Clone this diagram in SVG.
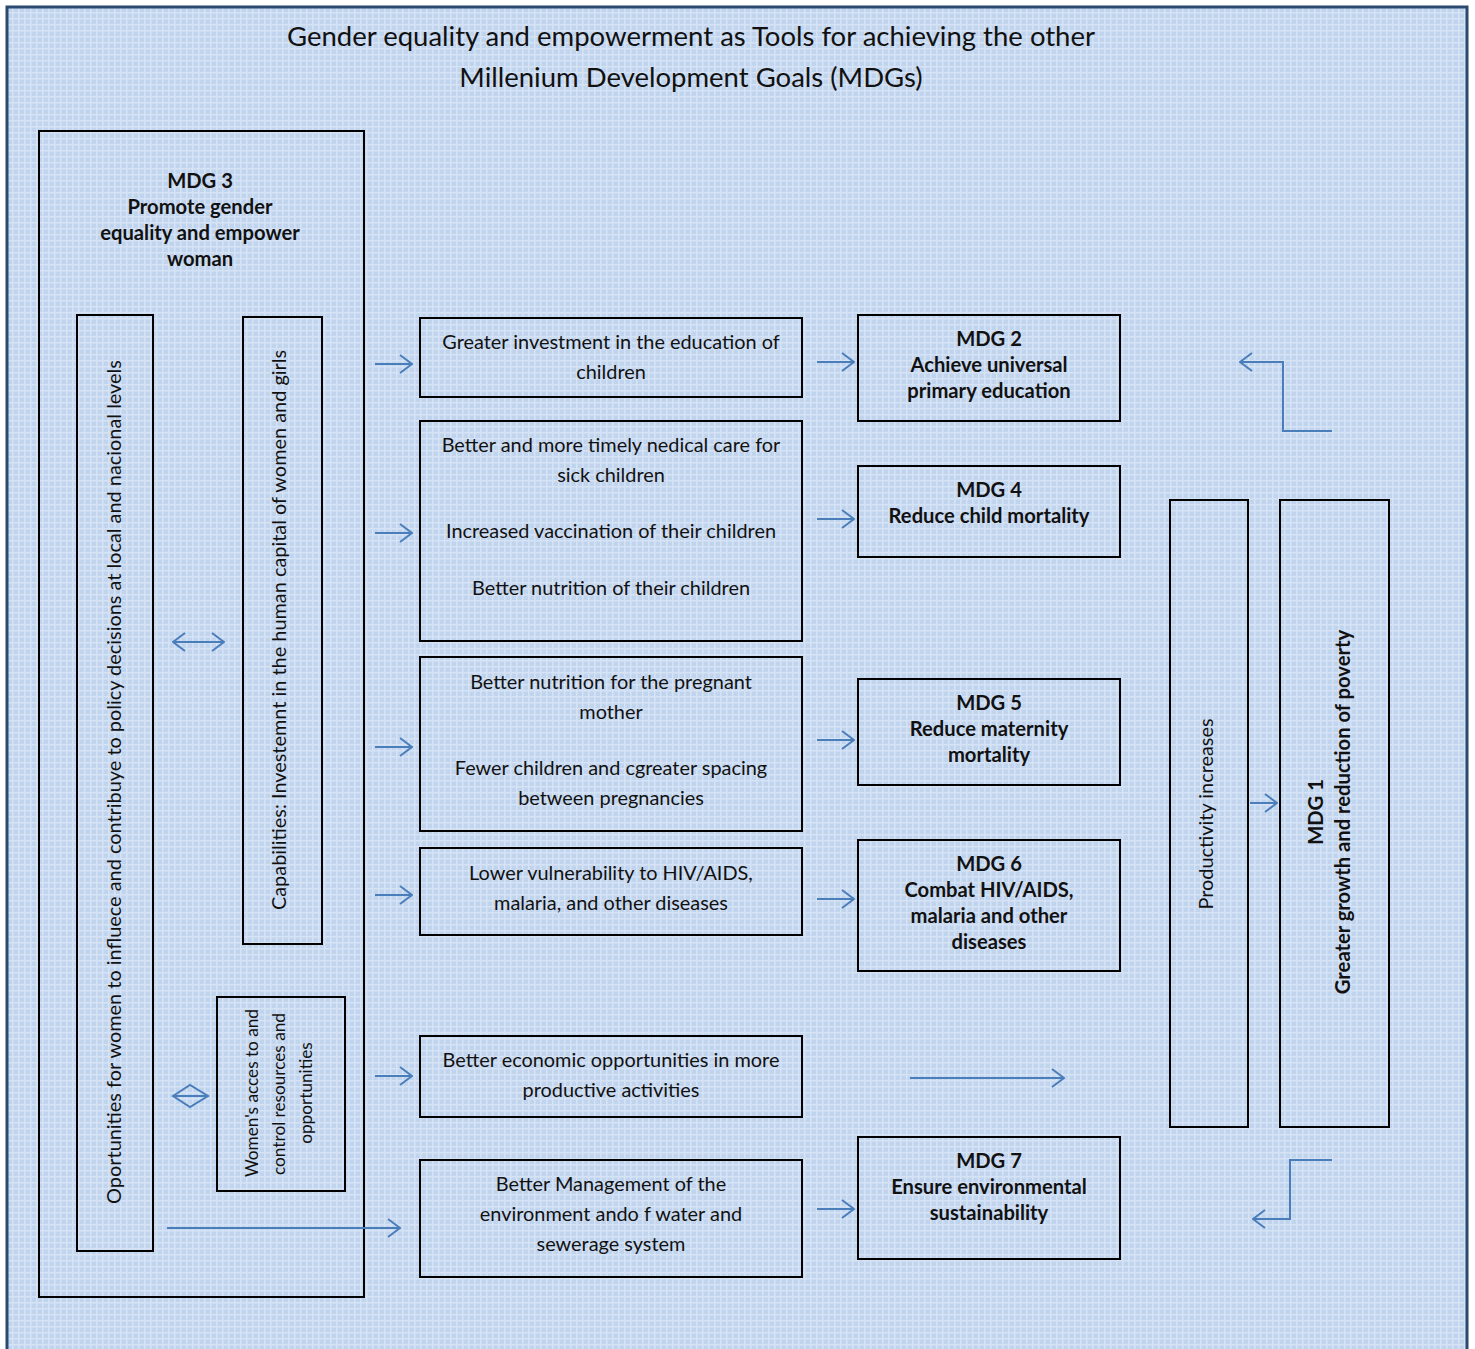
<svg xmlns="http://www.w3.org/2000/svg" width="1475" height="1349" viewBox="0 0 1475 1349">
<defs>
<pattern id="grid" width="6" height="6" patternUnits="userSpaceOnUse">
<rect width="6" height="6" fill="#c1d4ee"/>
<rect x="0" y="0" width="6" height="1.5" fill="#d6e3f5"/>
<rect x="0" y="0" width="1.5" height="6" fill="#d6e3f5"/>
</pattern>
<marker id="ah" viewBox="0 0 14 20" refX="13" refY="10" markerWidth="14" markerHeight="20" markerUnits="userSpaceOnUse" orient="auto-start-reverse">
<path d="M1,1 L13,10 L1,19" fill="none" stroke="#4a7ebb" stroke-width="2"/>
</marker>
</defs>
<style>
.box{fill:none;stroke:#000;stroke-width:2}
.t{font-family:Lato,"Liberation Sans",sans-serif;font-size:19.9px;fill:#111;text-anchor:middle;dominant-baseline:central}
.s{font-size:17.2px}
.b{font-weight:bold;font-size:20.2px}
.ttl{font-family:Lato,"Liberation Sans",sans-serif;font-size:27.5px;fill:#111;text-anchor:middle;dominant-baseline:central}
.c{fill:none;stroke:#4a7ebb;stroke-width:2}
</style>
<rect x="0" y="0" width="1475" height="1349" fill="#ffffff"/>
<rect x="7" y="7" width="1460" height="1350" fill="url(#grid)" stroke="#2a4a70" stroke-width="3"/>

<g id="title">
<text class="ttl" x="691" y="35">Gender equality and empowerment as Tools for achieving the other</text>
<text class="ttl" x="691" y="76">Millenium Development Goals (MDGs)</text>
</g>

<g id="mdg3">
<rect class="box" x="39" y="131" width="325" height="1166"/>
<text class="t b" x="200" y="180">MDG 3</text>
<text class="t b" x="200" y="206">Promote gender</text>
<text class="t b" x="200" y="232">equality and empower</text>
<text class="t b" x="200" y="258">woman</text>
</g>

<g id="opportunities">
<rect class="box" x="77" y="315" width="76" height="936"/>
<text class="t" transform="translate(113,782) rotate(-90)">Oportunities for women to influece and contribuye to policy decisions at local and nacional levels</text>
</g>

<g id="capabilities">
<rect class="box" x="243" y="317" width="79" height="627"/>
<text class="t" transform="translate(278,630) rotate(-90)">Capabilities: Investemnt in the human capital of women and girls</text>
</g>

<g id="access">
<rect class="box" x="217" y="997" width="128" height="194"/>
<text class="t s" transform="translate(251,1093) rotate(-90)">Women's acces to and</text>
<text class="t s" transform="translate(278,1094) rotate(-90)">control resources and</text>
<text class="t s" transform="translate(305,1093) rotate(-90)">opportunities</text>
</g>

<g id="education">
<rect class="box" x="420" y="318" width="382" height="79"/>
<text class="t" x="611" y="341">Greater investment in the education of</text>
<text class="t" x="611" y="371">children</text>
</g>

<g id="care">
<rect class="box" x="420" y="421" width="382" height="220"/>
<text class="t" x="611" y="444">Better and more timely nedical care for</text>
<text class="t" x="611" y="474">sick children</text>
<text class="t" x="611" y="530">Increased vaccination of their children</text>
<text class="t" x="611" y="587">Better nutrition of their children</text>
</g>

<g id="mother">
<rect class="box" x="420" y="657" width="382" height="174"/>
<text class="t" x="611" y="681">Better nutrition for the pregnant</text>
<text class="t" x="611" y="711">mother</text>
<text class="t" x="611" y="767">Fewer children and cgreater spacing</text>
<text class="t" x="611" y="797">between pregnancies</text>
</g>

<g id="hiv">
<rect class="box" x="420" y="848" width="382" height="87"/>
<text class="t" x="611" y="872">Lower vulnerability to HIV/AIDS,</text>
<text class="t" x="611" y="902">malaria, and other diseases</text>
</g>

<g id="economic">
<rect class="box" x="420" y="1036" width="382" height="81"/>
<text class="t" x="611" y="1059">Better economic opportunities in more</text>
<text class="t" x="611" y="1089">productive activities</text>
</g>

<g id="environment">
<rect class="box" x="420" y="1160" width="382" height="117"/>
<text class="t" x="611" y="1183">Better Management of the</text>
<text class="t" x="611" y="1213">environment ando f water and</text>
<text class="t" x="611" y="1243">sewerage system</text>
</g>

<g id="mdg2">
<rect class="box" x="858" y="315" width="262" height="106"/>
<text class="t b" x="989" y="338">MDG 2</text>
<text class="t b" x="989" y="364">Achieve universal</text>
<text class="t b" x="989" y="390">primary education</text>
</g>

<g id="mdg4">
<rect class="box" x="858" y="466" width="262" height="91"/>
<text class="t b" x="989" y="489">MDG 4</text>
<text class="t b" x="989" y="515">Reduce child mortality</text>
</g>

<g id="mdg5">
<rect class="box" x="858" y="679" width="262" height="106"/>
<text class="t b" x="989" y="702">MDG 5</text>
<text class="t b" x="989" y="728">Reduce maternity</text>
<text class="t b" x="989" y="754">mortality</text>
</g>

<g id="mdg6">
<rect class="box" x="858" y="840" width="262" height="131"/>
<text class="t b" x="989" y="863">MDG 6</text>
<text class="t b" x="989" y="889">Combat HIV/AIDS,</text>
<text class="t b" x="989" y="915">malaria and other</text>
<text class="t b" x="989" y="941">diseases</text>
</g>

<g id="mdg7">
<rect class="box" x="858" y="1137" width="262" height="122"/>
<text class="t b" x="989" y="1160">MDG 7</text>
<text class="t b" x="989" y="1186">Ensure environmental</text>
<text class="t b" x="989" y="1212">sustainability</text>
</g>

<g id="productivity">
<rect class="box" x="1170" y="500" width="78" height="627"/>
<text class="t" transform="translate(1205,814) rotate(-90)">Productivity increases</text>
</g>

<g id="mdg1">
<rect class="box" x="1280" y="500" width="109" height="627"/>
<text class="t b" transform="translate(1315,812) rotate(-90)">MDG 1</text>
<text class="t b" transform="translate(1342,812) rotate(-90)">Greater growth and reduction of poverty</text>
</g>

<g id="connectors">
<line class="c" x1="375" y1="364" x2="412" y2="364" marker-end="url(#ah)"/>
<line class="c" x1="375" y1="533" x2="412" y2="533" marker-end="url(#ah)"/>
<line class="c" x1="375" y1="747" x2="412" y2="747" marker-end="url(#ah)"/>
<line class="c" x1="375" y1="895" x2="412" y2="895" marker-end="url(#ah)"/>
<line class="c" x1="375" y1="1076" x2="412" y2="1076" marker-end="url(#ah)"/>
<line class="c" x1="817" y1="362" x2="854" y2="362" marker-end="url(#ah)"/>
<line class="c" x1="817" y1="519" x2="854" y2="519" marker-end="url(#ah)"/>
<line class="c" x1="817" y1="740" x2="854" y2="740" marker-end="url(#ah)"/>
<line class="c" x1="817" y1="899" x2="854" y2="899" marker-end="url(#ah)"/>
<line class="c" x1="817" y1="1209" x2="854" y2="1209" marker-end="url(#ah)"/>
<line class="c" x1="167" y1="1228" x2="400" y2="1228" marker-end="url(#ah)"/>
<line class="c" x1="910" y1="1078" x2="1064" y2="1078" marker-end="url(#ah)"/>
<line class="c" x1="1250" y1="803" x2="1277" y2="803" marker-end="url(#ah)"/>
<line class="c" x1="173" y1="642" x2="224" y2="642" marker-start="url(#ah)" marker-end="url(#ah)"/>
<path class="c" d="M173,1096 L190,1085 L208,1096 L190,1107 Z M173,1096 L208,1096"/>
<polyline class="c" points="1332,431 1283,431 1283,362 1240,362" marker-end="url(#ah)"/>
<polyline class="c" points="1332,1160 1290,1160 1290,1219 1253,1219" marker-end="url(#ah)"/>
</g>
</svg>
